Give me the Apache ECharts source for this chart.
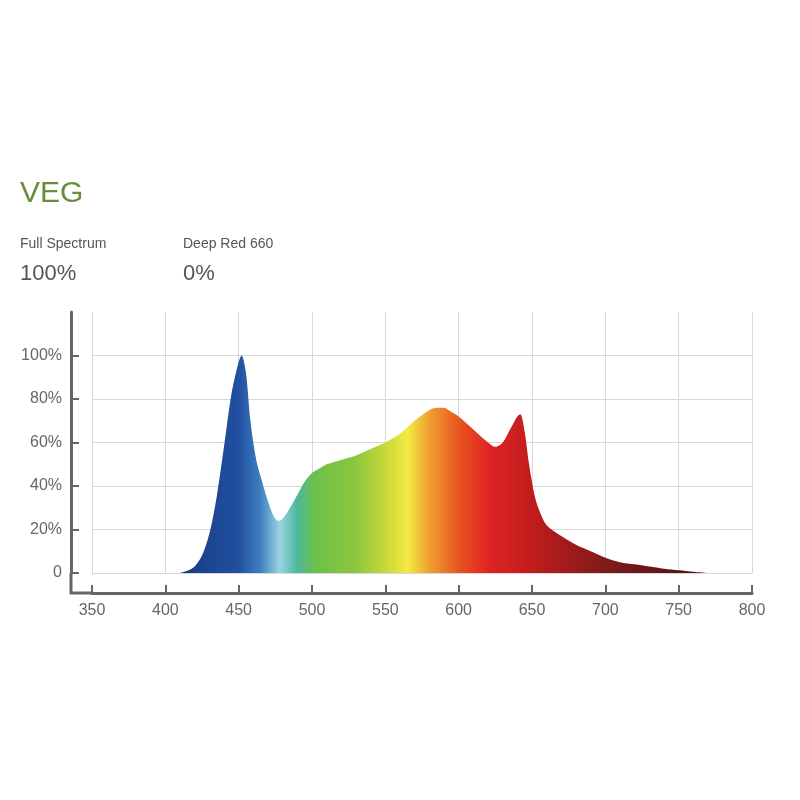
<!DOCTYPE html>
<html><head><meta charset="utf-8">
<script src="https://cdn.jsdelivr.net/npm/echarts@6/dist/echarts.min.js"></script>
<style>body{margin:0;background:#fff}#c{width:800px;height:800px}</style>
</head><body><div id="c"></div>
<script>
const wavelengths=[410,415,420,425,430,435,440,445,450,452,455,458,462,466,470,474,477,480,485,490,495,500,505,510,520,530,540,550,560,570,580,585,590,595,600,610,620,625,630,635,640,642,645,648,652,656,660,670,680,690,700,710,720,730,740,750,760,770];
const intensity=[0,1,3,8,18,35,58,82,97,100,92,70,52,42,33,26,24,25,30,36,42,46,48,50,52,54,57,60,64,70,75,76,76,74,72,66,60,58,60,66,72,73,65,50,35,27,22,17,13,10,7,5,4,3,2,1.3,0.6,0];
const yTicks=[0,20,40,60,80,100];
const xTicks=[350,400,450,500,550,600,650,700,750,800];
const colorStops=[[410,'#1a3a80'],[450,'#2150a0'],[465,'#3f7fc0'],[478,'#9ad4e4'],[490,'#4cb89a'],[502,'#6cc04a'],[530,'#8cc63f'],[550,'#c8d838'],[565,'#f2ea42'],[580,'#f0a030'],[600,'#e85520'],[620,'#e02424'],[650,'#c01c1c'],[700,'#801a1a'],[770,'#4a1212']];
const X0=350,X1=800,L=92,R=752;
const px=w=>L+(w-X0)/(X1-X0)*(R-L);
const gx0=px(410),gx1=px(770);
const grad=new echarts.graphic.LinearGradient(gx0,0,gx1,0,colorStops.map(s=>({offset:(px(s[0])-gx0)/(gx1-gx0),color:s[1]})),true);
const chart=echarts.init(document.getElementById('c'));
const axisC='#666';
chart.setOption({
 backgroundColor:'#fff',
 animation:false,
 grid:{left:L,right:800-R,top:312,bottom:227},
 graphic:[
  {type:'text',left:20,top:179,style:{text:'VEG',fill:'#6b8c3e',font:'30px "Liberation Sans", Arial'}},
  {type:'text',left:20,top:237,style:{text:'Full Spectrum',fill:'#555',font:'14px "Liberation Sans", Arial'}},
  {type:'text',left:20,top:263,style:{text:'100%',fill:'#555',font:'22px "Liberation Sans", Arial'}},
  {type:'text',left:183,top:237,style:{text:'Deep Red 660',fill:'#555',font:'14px "Liberation Sans", Arial'}},
  {type:'text',left:183,top:263,style:{text:'0%',fill:'#555',font:'22px "Liberation Sans", Arial'}},
  {type:'line',shape:{x1:71,y1:573,x2:71,y2:594},style:{stroke:axisC,lineWidth:3}},
  {type:'line',shape:{x1:70,y1:593,x2:92,y2:593},style:{stroke:axisC,lineWidth:3}}
 ],
 xAxis:{type:'value',min:X0,max:X1,interval:50,offset:20,
  axisLine:{show:true,onZero:false,lineStyle:{color:axisC,width:3}},
  axisTick:{show:true,inside:true,length:8,lineStyle:{color:axisC,width:2}},
  axisLabel:{color:'#666',fontSize:16,margin:10,customValues:xTicks},
  splitLine:{show:true,lineStyle:{color:'#d8d8d8'}}},
 yAxis:{type:'value',min:0,max:120,interval:20,offset:21,
  axisLine:{show:true,onZero:false,lineStyle:{color:axisC,width:3}},
  axisTick:{show:true,inside:true,length:8,lineStyle:{color:axisC,width:2},customValues:yTicks},
  axisLabel:{color:'#666',fontSize:16,margin:9,customValues:yTicks,formatter:v=>v===0?'0':v+'%'},
  splitLine:{show:true,lineStyle:{color:'#d8d8d8'}}},
 series:[{type:'line',data:wavelengths.map((w,i)=>[w,intensity[i]]),smooth:0.3,symbol:'none',
  lineStyle:{width:0},areaStyle:{color:grad,opacity:1}}]
});
</script></body></html>
